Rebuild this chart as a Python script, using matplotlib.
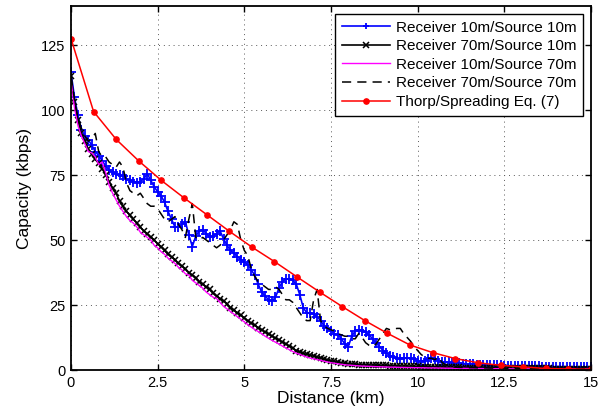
import matplotlib
matplotlib.use("Agg")
import matplotlib.pyplot as plt
import numpy as np

plt.rcParams['font.family'] = ['Liberation Sans', 'DejaVu Sans']

# distance grid (km) for the simulated curves, 0.1 km steps
dist = np.round(np.arange(0, 151) * 0.1, 1)

# Receiver 10m / Source 10m
rx10_sx10 = [
    114.5, 105, 98, 92.5, 90, 88.5, 86.5, 84, 82.5, 80.5,
    78.5, 77, 76, 75.5, 75, 74.5, 73.5, 73, 72.5, 72,
    72.5, 73.5, 75.5, 73, 70.5, 68.5, 67, 64.5, 61, 58,
    55, 55, 56, 57, 52, 47.5, 51.5, 53.5, 54, 52.5,
    51, 51.5, 52.5, 53.5, 50.5, 48, 46, 45, 43.5, 42.5,
    41.5, 40.5, 38.5, 36.5, 33, 30, 28.5, 27, 26.5, 28,
    31.5, 34, 35, 35, 34.5, 33, 29, 24, 22, 22,
    21.5, 20.5, 19, 17, 16, 15, 14, 13.5, 12, 10,
    9, 13, 15, 15.5, 15, 14.5, 13.5, 12, 10.5, 9,
    7.5, 6.5, 5.5, 5, 4.5, 4.2, 4.5, 4.5, 4.5, 4.2,
    3.5, 3.2, 3.5, 4.3, 4.6, 4.3, 3.5, 3.0, 3.1, 3.0,
    2.8, 2.7, 2.6, 2.5, 2.4, 2.3, 2.2, 2.1, 2.1, 2.0,
    2.0, 1.9, 1.9, 1.8, 1.8, 1.7, 1.7, 1.6, 1.6, 1.5,
    1.5, 1.5, 1.4, 1.4, 1.4, 1.4, 1.3, 1.3, 1.3, 1.3,
    1.3, 1.3, 1.3, 1.2, 1.2, 1.2, 1.2, 1.2, 1.2, 1.2, 1.2,
]

# Receiver 70m / Source 10m
rx70_sx10 = [
    113, 103, 96, 91, 88, 85, 83, 81, 79.5, 77.5,
    75, 72.5, 70, 68, 65, 63, 61, 59.5, 58, 56.5,
    55, 53.5, 52.5, 51, 50, 48.5, 47.5, 46, 44.5, 43.5,
    42.5, 41, 40, 39, 37.5, 36.5, 35.5, 34, 33, 32,
    31, 29.5, 28.5, 27.5, 26.5, 25.5, 24, 23, 22, 21,
    20, 19, 18, 17.2, 16.3, 15.5, 14.6, 13.8, 13, 12.3,
    11.6, 10.8, 10, 9.2, 8.4, 7.5, 6.9, 6.4, 6.0, 5.7,
    5.4, 5.0, 4.6, 4.2, 3.9, 3.6, 3.3, 3.0, 2.8, 2.6,
    2.4, 2.3, 2.2, 2.1, 2.05, 2.0, 1.95, 1.9, 1.9, 1.85,
    1.8, 1.75, 1.7, 1.65, 1.6, 1.55, 1.5, 1.5, 1.45, 1.4,
    1.4, 1.35, 1.3, 1.3, 1.25, 1.2, 1.2, 1.15, 1.1, 1.1,
    1.05, 1.0, 1.0, 0.95, 0.95, 0.9, 0.9, 0.9, 0.85, 0.85,
    0.8, 0.8, 0.8, 0.75, 0.75, 0.75, 0.7, 0.7, 0.7, 0.7,
    0.65, 0.65, 0.65, 0.65, 0.6, 0.6, 0.6, 0.6, 0.6, 0.55,
    0.55, 0.55, 0.55, 0.55, 0.5, 0.5, 0.5, 0.5, 0.5, 0.5, 0.5,
]

# Receiver 10m / Source 70m
rx10_sx70 = [
    111, 101, 94, 90, 87, 84, 83.5, 82, 79, 80,
    76, 71, 68, 65.5, 63, 61, 59, 57.5, 56.5, 55,
    53, 52, 51, 50, 48, 47, 45.5, 44.5, 43, 42,
    41, 39.5, 38.5, 37, 36.5, 34.5, 33.5, 32.5, 31.5, 30,
    29, 28, 27.5, 26, 24.5, 23.5, 22.5, 21.5, 20.5, 19.5,
    18.5, 17.5, 16.5, 15.6, 14.8, 14, 13, 12.2, 11.4, 10.7,
    10, 9.2, 8.5, 7.8, 7.1, 6.5, 6.0, 5.5, 5.0, 4.6,
    4.3, 4.0, 3.7, 3.4, 3.1, 2.8, 2.6, 2.4, 2.2, 2.0,
    1.9, 1.8, 1.7, 1.6, 1.5, 1.45, 1.4, 1.35, 1.3, 1.25,
    1.2, 1.15, 1.1, 1.1, 1.05, 1.0, 1.0, 0.95, 0.95, 0.9,
    0.9, 0.85, 0.85, 0.8, 0.8, 0.8, 0.75, 0.75, 0.7, 0.7,
    0.7, 0.65, 0.65, 0.65, 0.6, 0.6, 0.6, 0.6, 0.55, 0.55,
    0.55, 0.55, 0.5, 0.5, 0.5, 0.5, 0.5, 0.45, 0.45, 0.45,
    0.45, 0.45, 0.45, 0.4, 0.4, 0.4, 0.4, 0.4, 0.4, 0.4,
    0.4, 0.35, 0.35, 0.35, 0.35, 0.35, 0.35, 0.35, 0.35, 0.35, 0.35,
]

# Receiver 70m / Source 70m
rx70_sx70 = [
    113, 104, 97, 93, 90, 88, 89, 91, 84, 82,
    82, 80, 79, 78, 80, 78, 72, 69, 68, 67,
    68, 66, 64, 63, 63, 62, 60, 58, 57, 58,
    59, 56, 54, 51, 58, 64, 51, 50, 51, 50,
    49, 48, 47, 48, 50, 52, 54, 57, 56, 50,
    46, 44, 39, 36, 34, 33, 32, 31, 31, 32,
    31, 29, 27, 27, 26, 24, 22, 20, 19, 19,
    27, 31, 19, 17, 16, 15.5, 15, 14, 13.5, 13,
    13, 12, 12, 14, 12.5, 10.5, 9.5, 9, 10, 12,
    14, 16, 15.5, 15.5, 16, 16, 14, 12.5, 11, 9,
    7.5, 6, 5, 4.5, 4.5, 4, 5, 3, 2, 1.5,
    1.2, 1.1, 1.0, 1.0, 0.95, 0.9, 0.9, 0.85, 0.85, 0.8,
    0.8, 0.75, 0.75, 0.7, 0.7, 0.7, 0.65, 0.65, 0.65, 0.6,
    0.6, 0.6, 0.6, 0.55, 0.55, 0.55, 0.55, 0.5, 0.5, 0.5,
    0.5, 0.5, 0.5, 0.5, 0.45, 0.45, 0.45, 0.45, 0.45, 0.45, 0.45,
]

# Thorp/Spreading model, 24 points from 0 to 15 km
thorp_dist = np.linspace(0, 15, 24)
thorp_cap = [127.5, 99.4, 88.7, 80.4, 72.9, 66.2, 59.8, 53.4, 47.3, 41.7,
             35.8, 30.0, 24.4, 19.0, 14.1, 9.6, 6.7, 4.4, 2.8, 1.8,
             1.2, 0.6, 0.4, 0.3]

fig = plt.figure(figsize=(6.13, 4.15), dpi=100)
ax = fig.add_axes([0.1158, 0.1084, 0.8482, 0.8771])

ax.plot(dist, rx10_sx10, color='blue', lw=1.2, marker='+', ms=7.5, mew=1.3,
        label='Receiver 10m/Source 10m')
ax.plot(dist, rx70_sx10, color='black', lw=1.2, marker='x', ms=4.5, mew=1.1,
        label='Receiver 70m/Source 10m')
ax.plot(dist, rx10_sx70, color='magenta', lw=1,
        label='Receiver 10m/Source 70m')
ax.plot(dist, rx70_sx70, color='black', lw=1.1, linestyle=(0, (6, 4)),
        label='Receiver 70m/Source 70m')
ax.plot(thorp_dist, thorp_cap, color='red', lw=1.1, marker='o', ms=3.8,
        label='Thorp/Spreading Eq. (7)')

ax.set_xlim(0, 15)
ax.set_ylim(0, 140)
ax.set_xticks([0, 2.5, 5, 7.5, 10, 12.5, 15])
ax.set_xticklabels(['0', '2.5', '5', '7.5', '10', '12.5', '15'])
ax.set_yticks([0, 25, 50, 75, 100, 125])
ax.tick_params(direction='in', top=True, right=True, length=4, width=1,
               labelsize=10.5, pad=4)
for sp in ax.spines.values():
    sp.set_linewidth(1.3)
ax.grid(True, linestyle=(0, (1, 4)), color='0.35', linewidth=0.7)

ax.set_xlabel('Distance (km)', fontsize=12.5, labelpad=1)
ax.set_ylabel('Capacity (kbps)', fontsize=12.5, labelpad=6)

leg = ax.legend(loc='upper right', fontsize=11, handlelength=3.2,
                handletextpad=0.35, labelspacing=0.3, borderpad=0.45,
                borderaxespad=0.5, fancybox=False, framealpha=1)
leg.get_frame().set_edgecolor('black')
leg.get_frame().set_linewidth(1)
# legend markers drawn a bit smaller than on the curves
for h in leg.legend_handles:
    h.set_markersize(min(h.get_markersize(), 5))

fig.savefig('out.png', dpi=100)
